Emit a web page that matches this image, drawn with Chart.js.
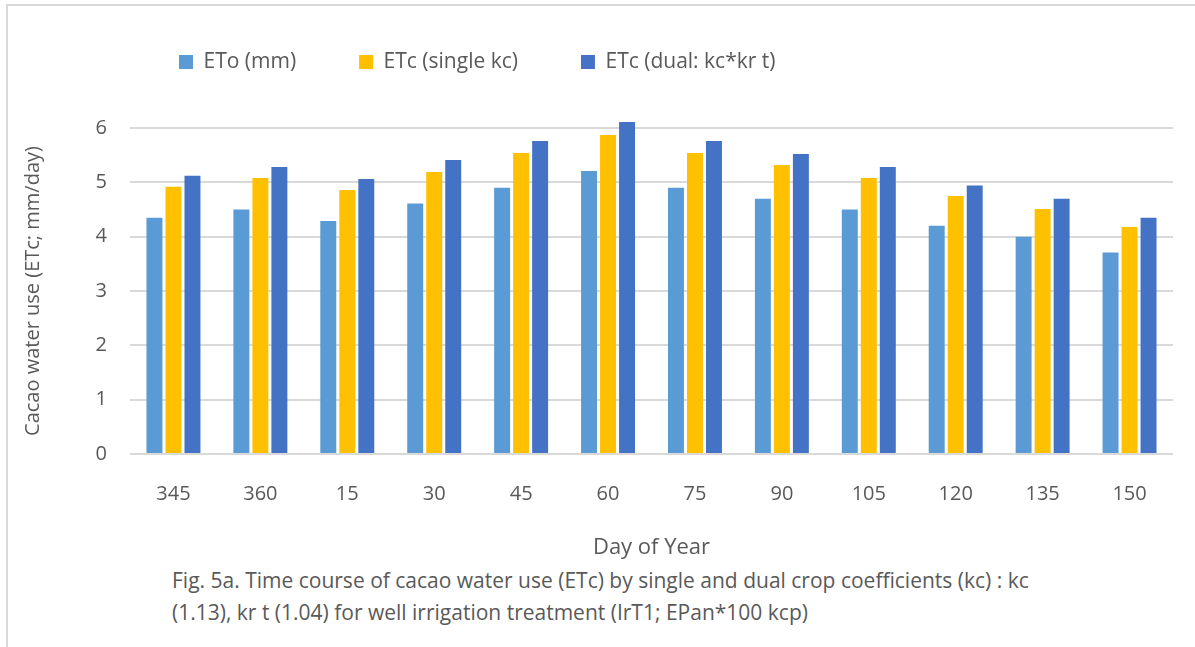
<!DOCTYPE html>
<html>
<head>
<meta charset="utf-8">
<script src="https://cdn.jsdelivr.net/npm/chart.js@4/dist/chart.umd.min.js"></script>
<style>
    body { margin: 0; background: #fff; }
    #frame {
        position: absolute; left: 6px; top: 4px; width: 1300px; height: 700px;
        border-left: 2px solid #d9d9d9; border-top: 2px solid #d9d9d9;
    }
    #chart { position: absolute; left: 0; top: 0; }
    #caption {
        position: absolute; left: 172px; top: 564px; white-space: nowrap;
        font-family: "Open Sans", sans-serif; font-size: 21px; line-height: 32px; color: #595959;
    }
</style>
</head>
<body>
<div id="frame"></div>
<canvas id="chart" width="1195" height="561"></canvas>
<div id="caption">Fig. 5a. Time course of cacao water use (ETc) by single and dual crop coefficients (kc) : kc<br>(1.13), kr t (1.04) for well irrigation treatment (IrT1; EPan*100 kcp)</div>
<script>
// дни года
const days = ["345", "360", "15", "30", "45", "60", "75", "90", "105", "120", "135", "150"]

const eto = [4.35, 4.50, 4.29, 4.61, 4.90, 5.21, 4.90, 4.70, 4.50, 4.20, 4.00, 3.71]
const etcSingle = [4.92, 5.08, 4.86, 5.19, 5.54, 5.87, 5.54, 5.32, 5.08, 4.75, 4.51, 4.18]
const etcDual = [5.12, 5.28, 5.06, 5.41, 5.76, 6.11, 5.76, 5.52, 5.28, 4.94, 4.70, 4.35]

const yTicks = [0, 1, 2, 3, 4, 5, 6]

const textColor = "#595959"
const gridColor = "#d9d9d9"

// легенда слева сверху, как в оригинале
const legendPlace = {
    id: "legendPlace",
    beforeInit(chart) {
        const fit = chart.legend.fit
        chart.legend.fit = function () {
            fit.call(this)
            this.height = 128
        }
    },
    afterLayout(chart) {
        const lg = chart.legend
        lg.left = 116
        lg.right = 1195
        lg.top = -11.5
        lg.bottom = 128
    }
}

const makeDataset = (label, data, color) => ({
    label: label,
    data: data,
    backgroundColor: color,
    borderWidth: 0,
    clip: false,
    categoryPercentage: 0.656,
    barPercentage: 0.84
})

new Chart(document.getElementById("chart"), {
    type: "bar",
    data: {
        labels: days,
        datasets: [
            makeDataset("ETo (mm)", eto, "#5B9BD5"),
            makeDataset("ETc (single kc)", etcSingle, "#FFC000"),
            makeDataset("ETc (dual: kc*kr t)", etcDual, "#4472C4")
        ]
    },
    options: {
        responsive: false,
        animation: false,
        layout: { padding: { left: 21, right: 22, top: 0, bottom: 0 } },
        plugins: {
            tooltip: { enabled: false },
            legend: {
                position: "top",
                align: "start",
                labels: {
                    boxWidth: 14,
                    boxHeight: 14,
                    padding: 63,
                    color: textColor,
                    font: { family: "Open Sans", size: 21 }
                }
            }
        },
        scales: {
            x: {
                grid: { display: false, drawTicks: false },
                border: { display: false },
                ticks: {
                    color: textColor,
                    padding: 28,
                    font: { family: "Open Sans", size: 20 }
                },
                title: {
                    display: true,
                    text: "Day of Year",
                    color: textColor,
                    padding: 0,
                    font: { family: "Open Sans", size: 22 }
                },
                afterFit: (scale) => { scale.height = 107 }
            },
            y: {
                min: 0,
                max: 6,
                afterBuildTicks: (scale) => { scale.ticks = yTicks.map(v => ({ value: v })) },
                grid: { color: gridColor, lineWidth: 2, drawTicks: false },
                border: { display: false },
                ticks: {
                    color: textColor,
                    padding: 23,
                    font: { family: "Open Sans", size: 20 }
                },
                title: {
                    display: true,
                    text: "Cacao water use (ETc; mm/day)",
                    color: textColor,
                    padding: 0,
                    font: { family: "Open Sans", size: 20 }
                },
                afterFit: (scale) => { scale.width = 109 }
            }
        }
    },
    plugins: [legendPlace]
})
</script>
</body>
</html>
